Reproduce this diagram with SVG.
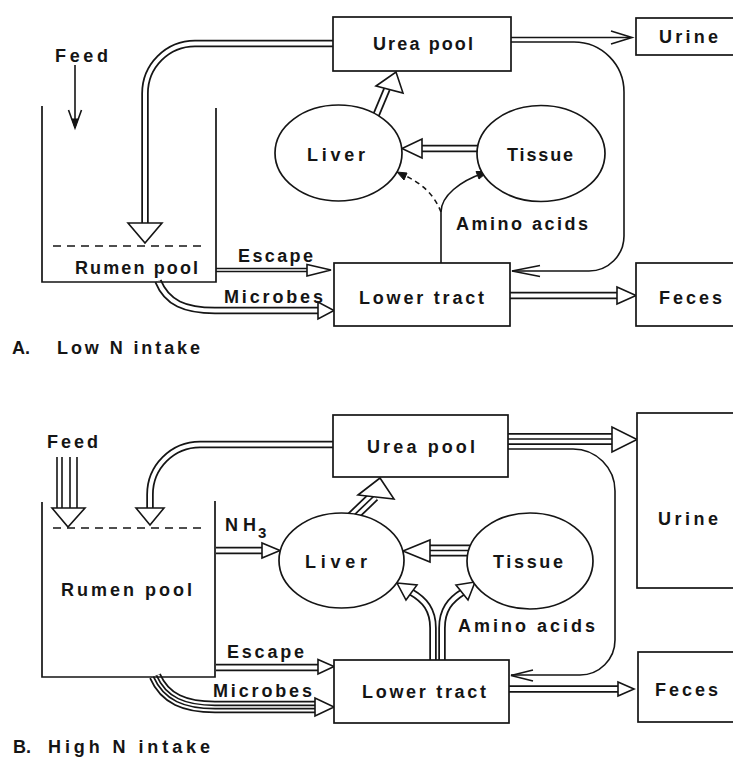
<svg xmlns="http://www.w3.org/2000/svg" xmlns:xlink="http://www.w3.org/1999/xlink" width="733" height="758" viewBox="0 0 733 758">
<style>
  text { font-family: "Liberation Sans", Arial, sans-serif; font-weight: bold; font-size: 18px; fill: #151515; }
  .box { fill: #fff; stroke: #151515; stroke-width: 1.7; }
  .open { fill: none; stroke: #151515; stroke-width: 1.7; }
  .dash { fill: none; stroke: #151515; stroke-width: 1.5; stroke-dasharray: 8 6; }
  .thin { fill: none; stroke: #151515; stroke-width: 1.6; }
  .thind { fill: none; stroke: #151515; stroke-width: 1.6; stroke-dasharray: 5 4; }
  .head { fill: #fff; stroke: #151515; stroke-width: 1.6; stroke-linejoin: miter; }
  .fhead { fill: #151515; stroke: #151515; stroke-width: 1; }
  .d2o { fill: none; stroke: #151515; stroke-width: 7.5; }
  .d2i { fill: none; stroke: #fff; stroke-width: 4; }
  .n2o { fill: none; stroke: #151515; stroke-width: 4.5; }
  .n2i { fill: none; stroke: #fff; stroke-width: 1.3; }
  .t3o { fill: none; stroke: #151515; stroke-width: 12; }
  .t3i { fill: none; stroke: #fff; stroke-width: 8.5; }
  .t3c { fill: none; stroke: #151515; stroke-width: 1.7; }
  .q4a { fill: none; stroke: #151515; stroke-width: 12.5; }
  .q4b { fill: none; stroke: #fff; stroke-width: 9; }
  .q4c { fill: none; stroke: #151515; stroke-width: 5; }
  .q4d { fill: none; stroke: #fff; stroke-width: 1.7; }
</style>
<defs>
  <path id="pA_ur" d="M334,43.5 H195 A50,50 0 0 0 145,93.5 V224"/>
  <path id="pA_tl" d="M478,148.5 H421"/>
  <path id="pA_lu" d="M374,120 L387,89"/>
  <path id="pA_lf" d="M509,295.5 H618"/>
  <path id="pA_esc" d="M216,270 H308"/>
  <path id="pA_mic" d="M158,281 C167,303 185,310.5 215,310.5 H319"/>
  <path id="pB_ur" d="M333,444.5 H200 A50,50 0 0 0 150,494.5 V509"/>
  <path id="pB_nh3" d="M216,550.5 H263"/>
  <path id="pB_uu" d="M508,439 H613"/>
  <path id="pB_tl" d="M470,550.5 H429"/>
  <path id="pB_lu" d="M349,520 L374,496"/>
  <path id="pB_aaL" d="M433,663 V628 C433,610 425,600 411,592"/>
  <path id="pB_aaR" d="M442,663 V628 C442,610 450,600 463,592"/>
  <path id="pB_lf" d="M509,689 H619"/>
  <path id="pB_esc" d="M216,667.5 H319"/>
  <path id="pB_mic" d="M155,676 C165,699 185,707 215,707 H316"/>
</defs>
<rect x="0" y="0" width="733" height="758" fill="#fff"/>

<g id="connectors">
  <!-- Panel A -->
  <path class="thin" d="M75,65 V124"/>
  <path class="thin" d="M68.5,110 L75,128 L81.5,110"/>
  <path class="fhead" d="M72,119 L75,128 L78,119 Z"/>

  <use xlink:href="#pA_ur" class="d2o"/><use xlink:href="#pA_ur" class="d2i"/>
  <polygon class="head" points="128,223 162,223 145,243"/>

  <path class="thin" d="M511,37.5 H630"/>
  <path class="thin" d="M611,31 L632,37.5 L611,44"/>

  <path class="thin" d="M511,42 H574 A50,50 0 0 1 624,92 V236 A35,35 0 0 1 589,271 H512"/>
  <path class="thin" d="M540,265.5 L512,271 L540,276.5"/>

  <use xlink:href="#pA_tl" class="d2o"/><use xlink:href="#pA_tl" class="d2i"/>
  <polygon class="head" points="422,139 422,158 402,148.5"/>

  <use xlink:href="#pA_lu" class="d2o"/><use xlink:href="#pA_lu" class="d2i"/>
  <polygon class="head" points="376,86 403,93 396,72"/>

  <path class="thin" d="M441,264 V212 C441,196 460,181 484,173"/>
  <polygon class="fhead" points="488,171.5 476,171.5 479,179"/>
  <path class="thind" d="M441,212 Q431,186 401,174"/>
  <polygon class="fhead" points="397,172 407,173 404,180"/>

  <use xlink:href="#pA_lf" class="d2o"/><use xlink:href="#pA_lf" class="d2i"/>
  <polygon class="head" points="617,287 617,304 636,295.5"/>

  <use xlink:href="#pA_esc" class="n2o"/><use xlink:href="#pA_esc" class="n2i"/>
  <polygon class="head" points="307,264.5 307,276 331,270"/>

  <use xlink:href="#pA_mic" class="d2o"/><use xlink:href="#pA_mic" class="d2i"/>
  <polygon class="head" points="318,302 318,319 334,310.5"/>

  <!-- Panel B -->
  <path class="thin" d="M57,457 V509 M62,457 V509 M70,457 V509 M77,457 V509"/>
  <polygon class="head" points="52,508 85,508 68,527"/>

  <use xlink:href="#pB_ur" class="d2o"/><use xlink:href="#pB_ur" class="d2i"/>
  <polygon class="head" points="136,508 164,508 150,525"/>

  <use xlink:href="#pB_nh3" class="d2o"/><use xlink:href="#pB_nh3" class="d2i"/>
  <polygon class="head" points="262,543 262,558 280,550.5"/>

  <use xlink:href="#pB_uu" class="t3o"/><use xlink:href="#pB_uu" class="t3i"/><use xlink:href="#pB_uu" class="t3c"/>
  <polygon class="head" points="612,427 612,452 637,439.5"/>

  <path class="thin" d="M508,449 H573 A42,42 0 0 1 615,491 V640 A35,35 0 0 1 580,675 H511"/>
  <path class="thin" d="M533,670 L511,675.5 L533,681"/>

  <use xlink:href="#pB_tl" class="t3o"/><use xlink:href="#pB_tl" class="t3i"/><use xlink:href="#pB_tl" class="t3c"/>
  <polygon class="head" points="430,540 430,562 403,551"/>

  <use xlink:href="#pB_lu" class="t3o"/><use xlink:href="#pB_lu" class="t3i"/><use xlink:href="#pB_lu" class="t3c"/>
  <polygon class="head" points="358,495 380,478 394,499"/>

  <use xlink:href="#pB_aaL" class="d2o"/><use xlink:href="#pB_aaR" class="d2o"/>
  <use xlink:href="#pB_aaL" class="d2i"/><use xlink:href="#pB_aaR" class="d2i"/>
  <polygon class="head" points="397,583 417,585 406,600"/>
  <polygon class="head" points="475,582 456,585 468,600"/>

  <use xlink:href="#pB_lf" class="d2o"/><use xlink:href="#pB_lf" class="d2i"/>
  <polygon class="head" points="618,682 618,696 634,689"/>

  <use xlink:href="#pB_esc" class="d2o"/><use xlink:href="#pB_esc" class="d2i"/>
  <polygon class="head" points="318,659.5 318,674 334,666.5"/>

  <use xlink:href="#pB_mic" class="q4a"/><use xlink:href="#pB_mic" class="q4b"/><use xlink:href="#pB_mic" class="q4c"/><use xlink:href="#pB_mic" class="q4d"/>
  <polygon class="head" points="315,698 315,716 334,707"/>
</g>

<!-- Panel A nodes -->
<g id="rumenA">
  <path class="open" d="M42,106 V282 H216 V108"/>
  <path class="dash" d="M53,246 H204"/>
  <text x="75" y="274" textLength="123" lengthAdjust="spacing">Rumen pool</text>
</g>
<g id="ureaA">
  <rect class="box" x="333" y="17" width="178" height="54"/>
  <text x="373" y="50" textLength="100" lengthAdjust="spacing">Urea pool</text>
</g>
<g id="urineA">
  <rect class="box" x="636" y="18" width="120" height="37"/>
  <text x="659" y="43" textLength="59" lengthAdjust="spacing">Urine</text>
</g>
<g id="liverA">
  <ellipse class="box" cx="338.5" cy="153" rx="63.5" ry="48"/>
  <text x="307" y="161" textLength="58" lengthAdjust="spacing">Liver</text>
</g>
<g id="tissueA">
  <ellipse class="box" cx="541" cy="153.5" rx="64" ry="48"/>
  <text x="507" y="161" textLength="66" lengthAdjust="spacing">Tissue</text>
</g>
<g id="lowerA">
  <rect class="box" x="334" y="263" width="176" height="63"/>
  <text x="359" y="304" textLength="125" lengthAdjust="spacing">Lower tract</text>
</g>
<g id="fecesA">
  <rect class="box" x="636" y="263" width="120" height="63"/>
  <text x="659" y="304" textLength="63" lengthAdjust="spacing">Feces</text>
</g>
<g id="labelsA">
  <text x="55" y="62" textLength="53" lengthAdjust="spacing">Feed</text>
  <text x="238" y="262" textLength="75" lengthAdjust="spacing">Escape</text>
  <text x="224" y="303" textLength="99" lengthAdjust="spacing">Microbes</text>
  <text x="456" y="230" textLength="132" lengthAdjust="spacing">Amino acids</text>
  <text x="12" y="354">A.</text>
  <text x="57" y="354" textLength="143" lengthAdjust="spacing">Low N intake</text>
</g>

<!-- Panel B nodes -->
<g id="rumenB">
  <path class="open" d="M42,502 V677 H215 V501"/>
  <path class="dash" d="M53,528 H204"/>
  <text x="61" y="596" textLength="131" lengthAdjust="spacing">Rumen pool</text>
</g>
<g id="ureaB">
  <rect class="box" x="333" y="415" width="175" height="62"/>
  <text x="367" y="453" textLength="108" lengthAdjust="spacing">Urea pool</text>
</g>
<g id="urineB">
  <rect class="box" x="637" y="413" width="120" height="175"/>
  <text x="658" y="525" textLength="60" lengthAdjust="spacing">Urine</text>
</g>
<g id="liverB">
  <ellipse class="box" cx="341.5" cy="560.5" rx="62.5" ry="47.5"/>
  <text x="305" y="568" textLength="62" lengthAdjust="spacing">Liver</text>
</g>
<g id="tissueB">
  <ellipse class="box" cx="530" cy="561" rx="63" ry="48"/>
  <text x="493" y="568" textLength="70" lengthAdjust="spacing">Tissue</text>
</g>
<g id="lowerB">
  <rect class="box" x="334" y="660" width="175" height="63"/>
  <text x="362" y="698" textLength="124" lengthAdjust="spacing">Lower tract</text>
</g>
<g id="fecesB">
  <rect class="box" x="638" y="652" width="120" height="70"/>
  <text x="655" y="696" textLength="63" lengthAdjust="spacing">Feces</text>
</g>
<g id="labelsB">
  <text x="47" y="448" textLength="51" lengthAdjust="spacing">Feed</text>
  <text x="225" y="531" textLength="31" lengthAdjust="spacing">NH</text>
  <text x="258" y="538" style="font-size:15px">3</text>
  <text x="227" y="658" textLength="77" lengthAdjust="spacing">Escape</text>
  <text x="213" y="697" textLength="99" lengthAdjust="spacing">Microbes</text>
  <text x="458" y="632" textLength="137" lengthAdjust="spacing">Amino acids</text>
  <text x="13" y="753">B.</text>
  <text x="48" y="753" textLength="162" lengthAdjust="spacing">High N intake</text>
</g>
</svg>
